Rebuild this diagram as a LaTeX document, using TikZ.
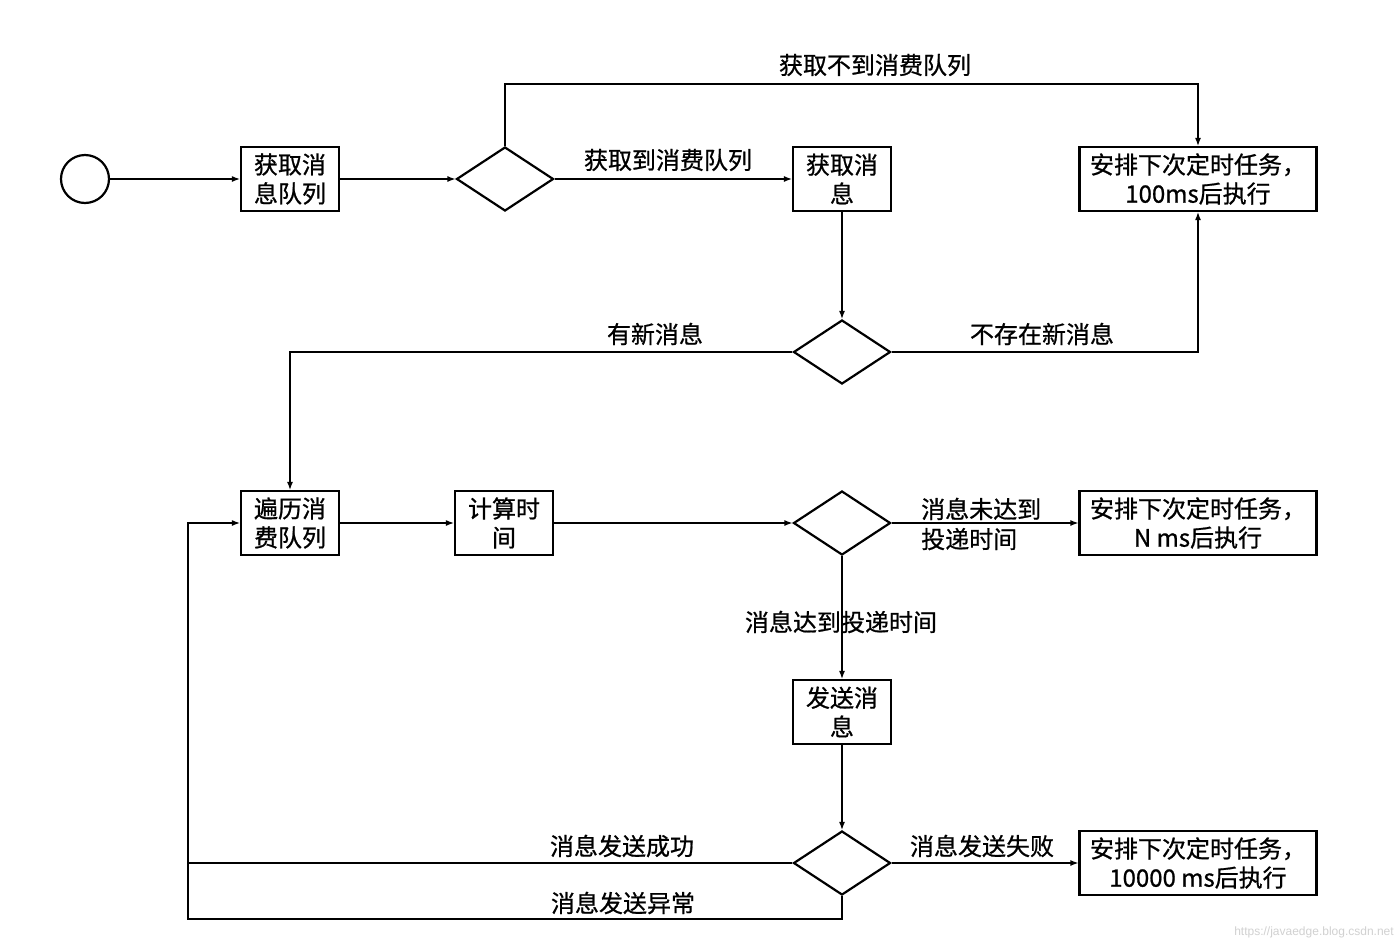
\documentclass[tikz,border=0pt]{standalone}
\usepackage{fontspec}
\newfontfamily\cjk[FakeBold=0.8]{Noto Sans CJK SC}
\newfontfamily\wmfont{Liberation Sans}
\usetikzlibrary{shapes.geometric,arrows.meta}
\begin{document}
\begin{tikzpicture}[x=1pt,y=-1pt,
 box/.style={draw,line width=2.2pt,minimum width=98pt,minimum height=64pt,inner sep=0pt,align=center,font=\cjk\fontsize{24}{29}\selectfont},
 wbox/.style={box,minimum width=237pt},
 dia/.style={draw,diamond,line width=2.2pt,minimum width=97pt,minimum height=64pt,inner sep=0pt},
 lbl/.style={font=\cjk\fontsize{24}{30}\selectfont,inner sep=0pt,align=center},
 conn/.style={line width=1.2pt,-{Latex[length=8pt,width=6pt]}},
 plain/.style={line width=1.2pt}]
\useasboundingbox[fill=white] (0,0) rectangle (1400,945);

% nodes
\node[draw,circle,line width=2.2pt,minimum size=48pt,inner sep=0pt] (st) at (85,179) {};
\node[box] (b1) at (290,179) {获取消\\息队列};
\node[dia] (d1) at (505,179) {};
\node[box] (b2) at (842,179) {获取消\\息};
\node[wbox] (b3) at (1198,179) {安排下次定时任务，\\100ms后执行};
\node[dia] (d2) at (842,352) {};
\node[box] (b4) at (290,523) {遍历消\\费队列};
\node[box] (b5) at (504,523) {计算时\\间};
\node[dia] (d3) at (842,523) {};
\node[wbox] (b6) at (1198,523) {安排下次定时任务，\\N ms后执行};
\node[box] (b7) at (842,712) {发送消\\息};
\node[dia] (d4) at (842,863) {};
\node[wbox] (b8) at (1198,863) {安排下次定时任务，\\10000 ms后执行};

% labels
\node[lbl] (l1) at (875,65) {获取不到消费队列};
\node[lbl] (l2) at (668,160) {获取到消费队列};
\node[lbl] (l3) at (655,334) {有新消息};
\node[lbl] (l4) at (1042,334) {不存在新消息};
\node[lbl,align=left,anchor=west] (l5) at (921,524) {消息未达到\\投递时间};
\node[lbl] (l6) at (841,622) {消息达到投递时间};
\node[lbl] (l7) at (622,846) {消息发送成功};
\node[lbl] (l8) at (623,903) {消息发送异常};
\node[lbl] (l9) at (982,846) {消息发送失败};
\node[font=\wmfont\fontsize{12}{14}\selectfont,text=black!18,inner sep=0pt] (wm) at (1314,932) {https://javaedge.blog.csdn.net};

% coordinates
\coordinate (t1) at (505,84);
\coordinate (c1) at (188,863);
\coordinate (c2) at (188,523);
\coordinate (c3) at (842,919);
\coordinate (c4) at (188,919);

% connectors
\draw[conn] (st.east) -- (b1.west);
\draw[conn] (b1.east) -- (d1.west);
\draw[conn] (d1.east) -- (b2.west);
\draw[conn] (d1.north) -- (t1) -| (b3.north);
\draw[conn] (b2.south) -- (d2.north);
\draw[conn] (d2.east) -| (b3.south);
\draw[conn] (d2.west) -| (b4.north);
\draw[conn] (b4.east) -- (b5.west);
\draw[conn] (b5.east) -- (d3.west);
\draw[conn] (d3.east) -- (b6.west);
\draw[conn] (d3.south) -- (b7.north);
\draw[conn] (b7.south) -- (d4.north);
\draw[conn] (d4.east) -- (b8.west);
\draw[conn] (d4.west) -- (c1) -- (c2) -- (b4.west);
\draw[plain] (d4.south) -- (c3) -- (c4) -- (c1);
\end{tikzpicture}
\end{document}
